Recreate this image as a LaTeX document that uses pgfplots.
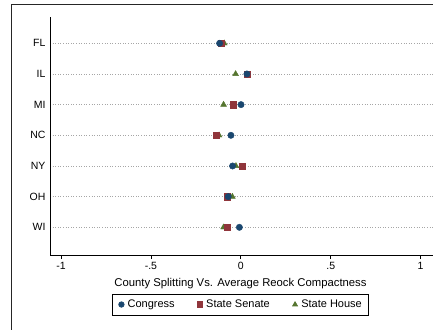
\documentclass[border=0pt]{standalone}
\usepackage{pgfplots}
\pgfplotsset{compat=1.18}
\usepackage{fontspec}
\setmainfont{Liberation Sans}
\definecolor{stnavy}{RGB}{26,71,111}
\definecolor{stmaroon}{RGB}{144,53,59}
\definecolor{stgreen}{RGB}{85,117,47}
\begin{document}
\begin{tikzpicture}[x=1pt,y=1pt]
\useasboundingbox (0,0) rectangle (433,329);
% graph region border
\draw[line width=1pt, black!85] (11,-5) -- (11,324) -- (440,324);
\begin{axis}[
  at={(50pt,74pt)}, anchor=south west, scale only axis,
  width=383pt, height=238pt,
  xmin=-1.0611, xmax=1.0686, ymin=0.142, ymax=7.903, y dir=reverse,
  axis x line*=bottom, axis y line*=left,
  axis line style={-, line width=0.8pt, black},
  xtick={-1,-0.5,0,0.5,1}, xticklabels={-1,-.5,0,.5,1},
  ytick={1,2,3,4,5,6,7}, yticklabels={FL,IL,MI,NC,NY,OH,WI},
  tick align=outside,
  major tick length=4pt,
  x tick style={black, line width=0.8pt},
  y tick style={draw=none},
  ticklabel style={font=\fontsize{10.5}{12}\selectfont},
  yticklabel style={xshift=3pt},
  ymajorgrids,
  grid style={gray!70, line width=0.9pt, dash pattern=on 1pt off 1.6pt},
  xlabel={County Splitting Vs. Average Reock Compactness},
  xlabel style={at={(axis description cs:0.4974,-0.118)}, anchor=center,
    font=\fontsize{11.3}{13}\selectfont},
  reverse legend,
  legend columns=3,
  legend image code/.code={%
    \path (0cm,0cm) (0.27cm,0cm);
    \draw[mark repeat=2,mark phase=2,#1]
      plot coordinates {(0cm,0cm) (0.135cm,0cm) (0.27cm,0cm)};},
  legend image post style={mark size=2.7pt},
  legend style={at={(0.4974,-0.208)}, anchor=center, draw=black,
    line width=0.8pt, font=\fontsize{11}{13}\selectfont,
    inner xsep=5pt, inner ysep=4pt,
    /tikz/every even column/.append style={column sep=19pt}},
  legend cell align=left,
]
\addplot[only marks, mark=triangle*, mark size=3.4pt, color=stgreen]
  coordinates {(-0.092,1) (-0.029,2) (-0.096,3) (-0.121,4) (-0.027,5) (-0.047,6) (-0.096,7)};
\addlegendentry{State House}
\addplot[only marks, mark=square*, mark size=3.2pt, color=stmaroon]
  coordinates {(-0.109,1) (0.034,2) (-0.044,3) (-0.136,4) (0.008,5) (-0.077,6) (-0.075,7)};
\addlegendentry{State Senate}
\addplot[only marks, mark=*, mark size=3.2pt, color=stnavy]
  coordinates {(-0.118,1) (0.034,2) (0.001,3) (-0.055,4) (-0.046,5) (-0.070,6) (-0.008,7)};
\addlegendentry{Congress}
\end{axis}
\end{tikzpicture}
\end{document}
